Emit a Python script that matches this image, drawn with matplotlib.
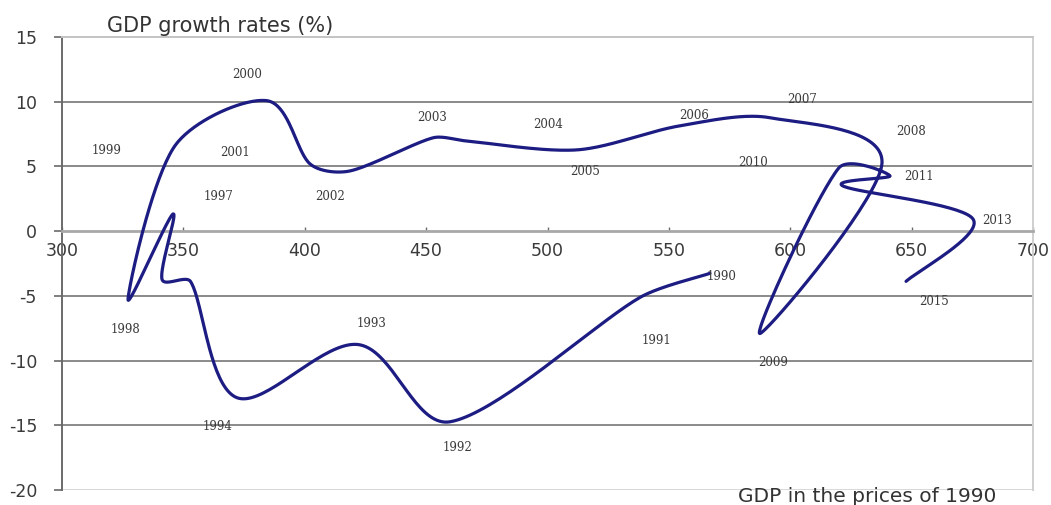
import numpy as np
import matplotlib
matplotlib.use('Agg')
import matplotlib.pyplot as plt

plt.rcParams['axes.unicode_minus'] = False

# GDP (1990 prices) vs GDP growth rate (%)
years = [1990, 1991, 1992, 1993, 1994, 1995, 1996, 1997, 1998, 1999,
         2000, 2001, 2002, 2003, 2004, 2005, 2006, 2007, 2008, 2009,
         2010, 2011, 2012, 2013, 2015]
gdp = [566.9, 538.1, 459.8, 421.9, 372.1, 353.0, 341.2, 345.7, 327.2, 346.5,
       384.4, 402.2, 418.6, 452.8, 466.0, 512.2, 554.6, 591.7, 637.8, 587.5,
       620.0, 641.1, 621.7, 675.3, 647.7]
growth = [-3.26, -5.12, -14.73, -8.76, -12.87, -3.9, -3.72, 1.32, -5.27, 6.59,
          10.08, 5.19, 4.65, 7.21, 6.98, 6.28, 8.14, 8.76, 5.27, -7.91,
          4.88, 4.26, 3.49, 0.93, -3.88]

# year labels as placed on the chart (data coordinates)
label_years = ['1990', '1991', '1992', '1993', '1994', '1997', '1998', '1999',
               '2000', '2001', '2002', '2003', '2004', '2005', '2006', '2007',
               '2008', '2009', '2010', '2011', '2013', '2015']
label_x = [571.9, 545.1, 463.1, 427.7, 363.9, 364.3, 326.0, 318.5,
           376.2, 371.3, 410.4, 452.4, 500.2, 515.4, 560.4, 604.8,
           649.7, 592.9, 584.7, 653.0, 685.2, 659.2]
label_y = [-3.49, -8.45, -16.74, -7.13, -15.12, 2.71, -7.6, 6.2,
           12.09, 6.05, 2.71, 8.76, 8.22, 4.57, 8.91, 10.16,
           7.67, -10.16, 5.27, 4.26, 0.85, -5.43]

x_ticks = [300, 350, 400, 450, 500, 550, 600, 650, 700]
y_ticks = [-20, -15, -10, -5, 0, 5, 10, 15]

LINE = '#1c1c82'
TEXT = '#3a3a3a'


def excel_smooth(ax, xs, ys, n=40, cap=0.3):
    # smoothed line (bezier, 1/6 tangents) built in screen space,
    # handles capped so short segments do not balloon
    pts = ax.transData.transform(np.column_stack([xs, ys]))
    m = len(pts)
    tang = []
    for i in range(m):
        a = pts[i - 1] if i > 0 else pts[i]
        b = pts[i + 1] if i + 1 < m else pts[i]
        tang.append((b - a) / 6.0)
    out = []
    for i in range(m - 1):
        p1, p2 = pts[i], pts[i + 1]
        L = np.hypot(*(p2 - p1))
        t1, t2 = tang[i], tang[i + 1]
        n1, n2 = np.hypot(*t1), np.hypot(*t2)
        if n1 > cap * L:
            t1 = t1 * cap * L / n1
        if n2 > cap * L:
            t2 = t2 * cap * L / n2
        c1 = p1 + t1
        c2 = p2 - t2
        t = np.linspace(0, 1, n)[:, None]
        seg = ((1 - t) ** 3) * p1 + 3 * ((1 - t) ** 2) * t * c1 \
            + 3 * (1 - t) * t ** 2 * c2 + t ** 3 * p2
        out.append(seg if i == 0 else seg[1:])
    out = np.vstack(out)
    return ax.transData.inverted().transform(out)


fig = plt.figure(figsize=(10.51, 5.05), dpi=100)
ax = fig.add_axes([62 / 1051, 15 / 505, 971 / 1051, 453 / 505])
ax.set_xlim(300, 700)
ax.set_ylim(-20, 15)

for v in y_ticks:
    if v in (-20, 0, 15):
        continue
    ax.axhline(v, color='#8a8a8a', lw=1.4, zorder=1)

ax.spines['left'].set_color('#6a6a6a')
ax.spines['left'].set_linewidth(1.4)
ax.spines['bottom'].set_position(('data', 0))
ax.spines['bottom'].set_color('#a8a8a8')
ax.spines['bottom'].set_linewidth(2.0)
ax.spines['top'].set_color('#c4c4c4')
ax.spines['top'].set_linewidth(1.4)
ax.spines['right'].set_color('#cfcfcf')
ax.spines['right'].set_linewidth(1.4)
ax.axhline(-20, color='#d8d8d8', lw=1.4, zorder=1)

ax.set_xticks(x_ticks)
ax.set_yticks(y_ticks)
ax.tick_params(axis='y', direction='out', length=6, width=1.2,
               color='#6a6a6a', pad=12, labelsize=12.5, labelcolor=TEXT)
ax.tick_params(axis='x', direction='in', length=3, width=1.0,
               color='#6a6a6a', pad=8, labelsize=12.5, labelcolor=TEXT)

curve = excel_smooth(ax, gdp, growth)
ax.plot(curve[:, 0], curve[:, 1], color=LINE, lw=2.3, zorder=3,
        solid_capstyle='round', solid_joinstyle='round')

for lab, lx, ly in zip(label_years, label_x, label_y):
    ax.text(lx, ly, lab, ha='center', va='center', fontsize=8.5,
            family='DejaVu Serif', color=TEXT, zorder=4)

fig.text(220 / 1051, 1 - 31.7 / 505, 'GDP growth rates (%)', ha='center',
         va='baseline', fontsize=15, color='#333333')
fig.text(867 / 1051, 1 - 502.5 / 505, 'GDP in the prices of 1990',
         ha='center', va='baseline', fontsize=14.5, color='#333333')

fig.savefig('out.png', dpi=100)
